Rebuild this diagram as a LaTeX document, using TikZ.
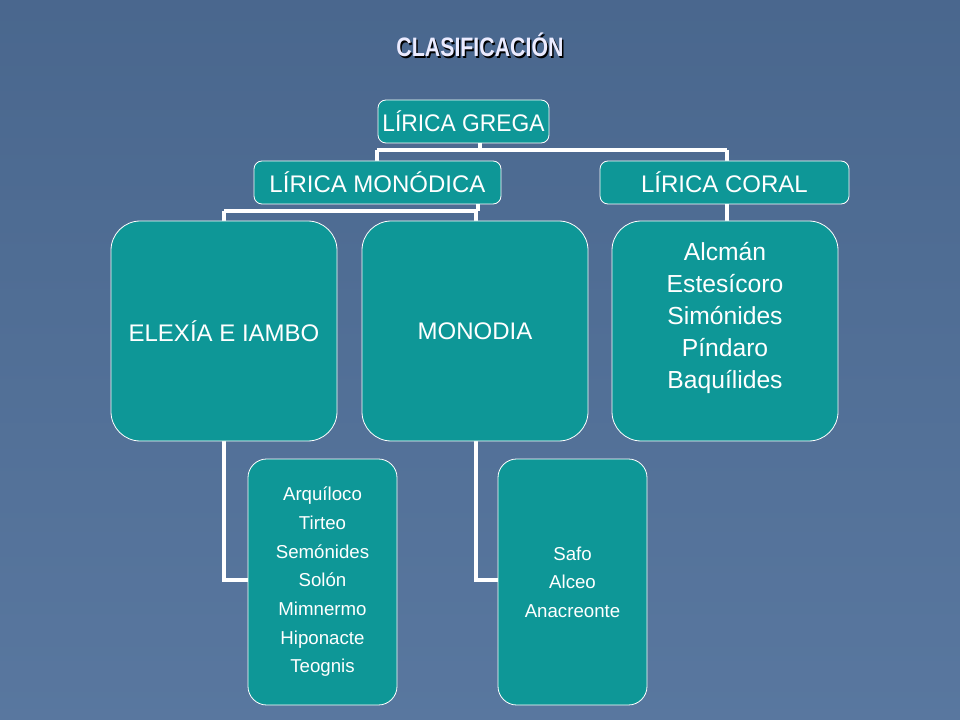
\documentclass[tikz,border=0pt]{standalone}
\usepackage{fontspec}
\setmainfont{Liberation Sans}
\begin{document}
\begin{tikzpicture}[x=0.75pt,y=-0.75pt,
  box/.style={draw=white,line width=0.6pt,fill=tealc,rounded corners=#1,text=white,align=center,inner sep=0pt},
  box/.default=8pt,
  conn/.style={draw=white,line width=3.5pt}]
\definecolor{tealc}{HTML}{0E9797}
\definecolor{bgc}{HTML}{50709A}
\shade[top color=bgc!92!black,bottom color=bgc!95!white] (0,0) rectangle (960,720);
\useasboundingbox (0,0) rectangle (960,720);
\draw[conn] (480,143) -- (480,150) (377,150) -- (727,150) (377,150) -- (377,161) (727,150) -- (727,161);
\draw[conn] (478,204) -- (478,211) (224,211) -- (476,211) (224,211) -- (224,221) (476,211) -- (476,221);
\draw[conn] (727,204) -- (727,221);
\draw[conn] (224,441) -- (224,580) -- (248,580);
\draw[conn] (476,441) -- (476,580) -- (498,580);
\node[text=black] at (481.5,46.5) {\bfseries\fontsize{20}{24}\selectfont\addfontfeature{FakeStretch=0.8}CLASIFICACIÓN};
\node (title) [text=white!92!blue] at (480,45) {\bfseries\fontsize{20}{24}\selectfont\addfontfeature{FakeStretch=0.8}CLASIFICACIÓN};
\node (grega) [box=6pt,minimum width=128.25pt,minimum height=32.25pt,font=\fontsize{18}{21}\selectfont\addfontfeature{FakeStretch=0.95}] at (463.5,121.5) {LÍRICA GREGA};
\node (mono) [box=6pt,minimum width=185.25pt,minimum height=32.25pt,font=\fontsize{18}{21}\selectfont] at (377.5,182.5) {LÍRICA MONÓDICA};
\node (coral) [box=6pt,minimum width=186.75pt,minimum height=32.25pt,font=\fontsize{18}{21}\selectfont] at (724.5,182.5) {LÍRICA CORAL};
\node (elex) [box=22pt,minimum width=169.5pt,minimum height=165pt,font=\fontsize{18}{21}\selectfont] at (224,331) {ELEXÍA E IAMBO};
\node (monodia) [box=22pt,minimum width=169.5pt,minimum height=165pt,font=\fontsize{18}{21}\selectfont] at (475,331) {MONODIA};
\node (coralc) [box=22pt,minimum width=169.5pt,minimum height=165pt] at (725,331) {};
\node (coraltext) [text=white,align=center,font=\fontsize{18.5}{24}\selectfont] at (725,318) {Alcmán\\Estesícoro\\Simónides\\Píndaro\\Baquílides};
\node (arq) [box=14pt,minimum width=111.75pt,minimum height=184.5pt,font=\fontsize{14}{21.5}\selectfont] at (322.5,582) {Arquíloco\\Tirteo\\Semónides\\Solón\\Mimnermo\\Hiponacte\\Teognis};
\node (safo) [box=14pt,minimum width=111.75pt,minimum height=184.5pt,font=\fontsize{14}{21.5}\selectfont] at (572.5,582) {Safo\\Alceo\\Anacreonte};
\end{tikzpicture}
\end{document}
